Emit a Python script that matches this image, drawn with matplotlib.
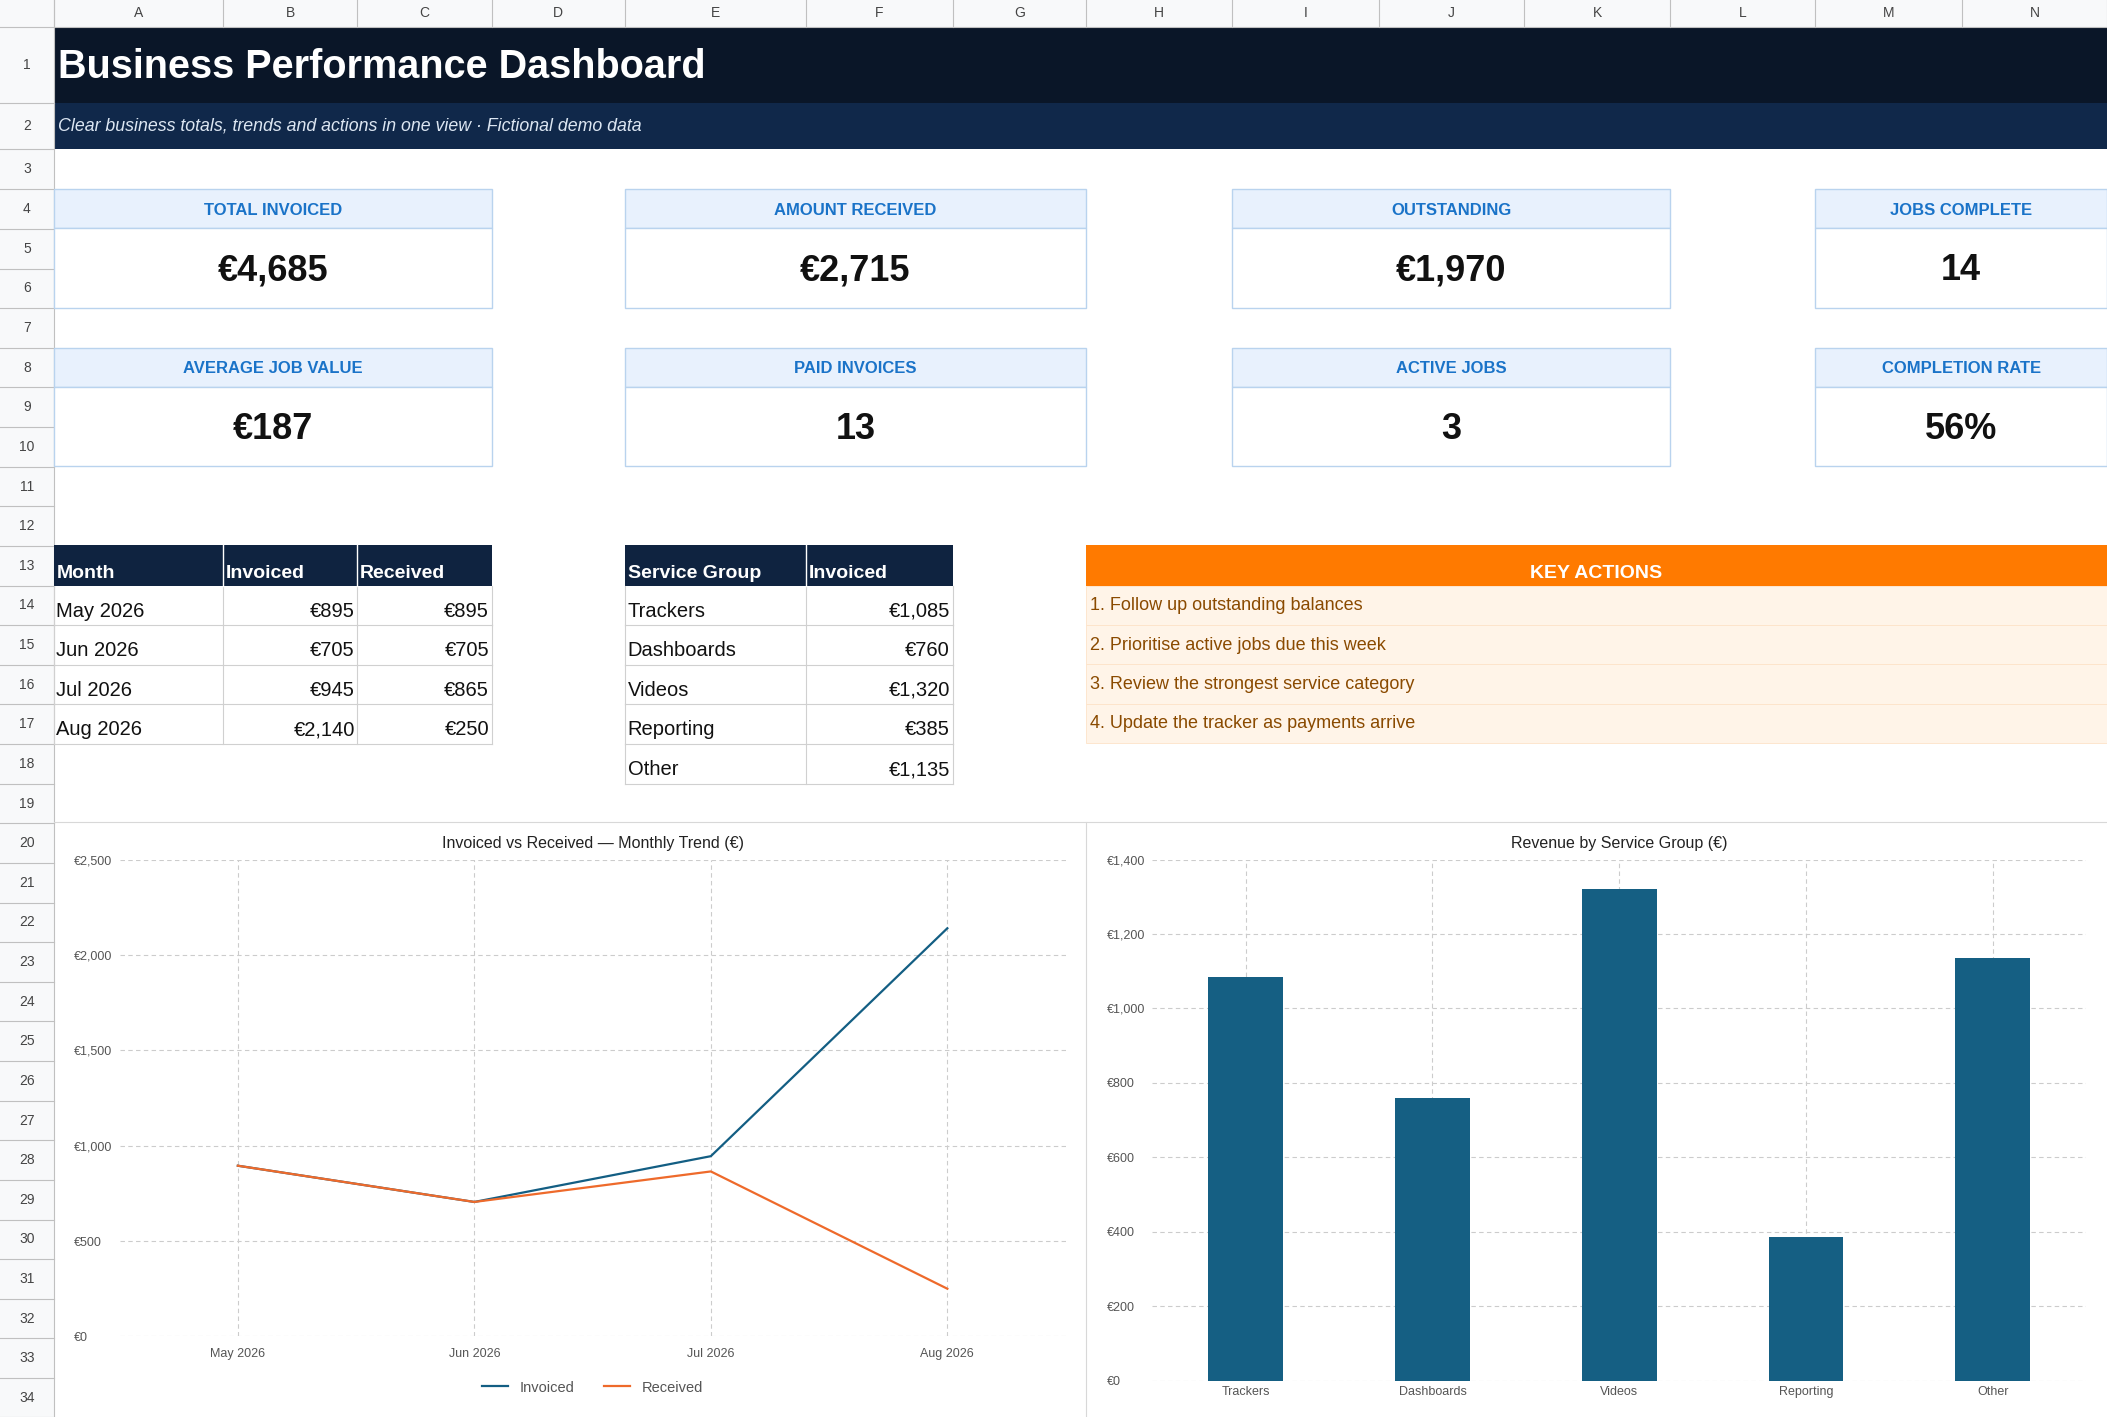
import matplotlib
matplotlib.use("Agg")
import matplotlib.pyplot as plt
from matplotlib.patches import Rectangle

plt.rcParams['font.family'] = ['Liberation Sans', 'DejaVu Sans']

title = "Business Performance Dashboard"
subtitle = "Clear business totals, trends and actions in one view · Fictional demo data"
kpi_labels = ["TOTAL INVOICED", "AMOUNT RECEIVED", "OUTSTANDING", "JOBS COMPLETE",
              "AVERAGE JOB VALUE", "PAID INVOICES", "ACTIVE JOBS", "COMPLETION RATE"]
kpi_values = ["€4,685", "€2,715", "€1,970", "14", "€187", "13", "3", "56%"]
months = ["May 2026", "Jun 2026", "Jul 2026", "Aug 2026"]
invoiced = [895, 705, 945, 2140]
received = [895, 705, 865, 250]
groups = ["Trackers", "Dashboards", "Videos", "Reporting", "Other"]
group_invoiced = [1085, 760, 1320, 385, 1135]
actions = ["1. Follow up outstanding balances", "2. Prioritise active jobs due this week",
           "3. Review the strongest service category", "4. Update the tracker as payments arrive"]

W, H = 1568, 1055
fig = plt.figure(figsize=(21.07, 14.17), dpi=100)
bg = fig.add_axes([0, 0, 1, 1])
bg.set_xlim(0, W); bg.set_ylim(H, 0); bg.axis('off')

cols = [40, 166, 266, 366, 465, 600, 709, 808, 917, 1026, 1134, 1243, 1351, 1460, 1568]
letters = "ABCDEFGHIJKLMN"
rows = [20, 77, 111, 141]
while rows[-1] < H:
    rows.append(rows[-1] + 29.5)

def rect(x0, y0, x1, y1, fc, ec='none', lw=1, z=1):
    bg.add_patch(Rectangle((x0, y0), x1 - x0, y1 - y0, fc=fc, ec=ec, lw=lw, zorder=z))

# headers
rect(0, 0, W, 20, '#f8f9fa', z=0)
rect(0, 0, 40, H, '#f8f9fa', z=0)
for i, c in enumerate(cols):
    bg.plot([c, c], [0, 20], color='#c0c0c0', lw=0.8)
    if i < len(letters):
        bg.text((c + cols[i + 1]) / 2, 10, letters[i], ha='center', va='center', fontsize=10, color='#444')
bg.plot([0, W], [20, 20], color='#c0c0c0', lw=0.8)
for i in range(len(rows) - 1):
    y0, y1 = rows[i], min(rows[i + 1], H)
    bg.plot([0, 40], [y1, y1], color='#c0c0c0', lw=0.8)
    if y0 < H - 5:
        bg.text(20, (y0 + y1) / 2, str(i + 1), ha='center', va='center', fontsize=10, color='#444')
bg.plot([40, 40], [0, H], color='#c0c0c0', lw=0.8)

# title rows
rect(40, 20, W, 77, '#0a1628', z=1)
rect(40, 77, W, 111, '#10284a', z=1)
bg.text(43, 50, title, color='white', fontsize=28.5, fontweight='bold', va='center', zorder=3)
bg.text(43, 94, subtitle, color='#dce6f2', fontsize=12.8, style='italic', va='center', zorder=3)

# KPI cards
card_x = [(40, 366), (465, 808), (917, 1243), (1351, 1568)]
card_y = [(141, 170, 229), (259, 288, 347)]
for r in range(2):
    for c in range(4):
        x0, x1 = card_x[c]
        ya, yb, yc = card_y[r]
        rect(x0, ya, x1, yb, '#e8f1fd', '#b9d3ee', 1, 2)
        rect(x0, yb, x1, yc, 'white', '#b9d3ee', 1, 2)
        k = r * 4 + c
        bg.text((x0 + x1) / 2, (ya + yb) / 2 + 1, kpi_labels[k], ha='center', va='center',
                fontsize=12, fontweight='bold', color='#1a73c8', zorder=3)
        bg.text((x0 + x1) / 2, (yb + yc) / 2 + 2, kpi_values[k], ha='center', va='center',
                fontsize=26, fontweight='bold', color='#111', zorder=3)

# month table
tcols = [40, 166, 266, 366]
rect(40, 406, 366, 436, '#0f2340', z=2)
for x in tcols[1:-1]:
    bg.plot([x, x], [406, 436], color='white', lw=1, zorder=3)
for t, x in zip(["Month", "Invoiced", "Received"], tcols):
    bg.text(x + 2, 427, t, color='white', fontsize=14, fontweight='bold', va='center', zorder=3)
for i, m in enumerate(months):
    y0 = 436 + 29.5 * i; y1 = y0 + 29.5
    for x in tcols:
        bg.plot([x, x], [y0, y1], color='#d0d0d0', lw=0.8)
    bg.plot([40, 366], [y1, y1], color='#d0d0d0', lw=0.8)
    yc = y0 + 19
    bg.text(42, yc, m, fontsize=14.5, va='center', color='#111')
    bg.text(264, yc, f"€{invoiced[i]:,}", fontsize=14.5, va='center', ha='right', color='#111')
    bg.text(364, yc, f"€{received[i]:,}", fontsize=14.5, va='center', ha='right', color='#111')

# group table
gcols = [465, 600, 709]
rect(465, 406, 709, 436, '#0f2340', z=2)
bg.plot([600, 600], [406, 436], color='white', lw=1, zorder=3)
for t, x in zip(["Service Group", "Invoiced"], gcols):
    bg.text(x + 2, 427, t, color='white', fontsize=14, fontweight='bold', va='center', zorder=3)
for i, g in enumerate(groups):
    y0 = 436 + 29.5 * i; y1 = y0 + 29.5
    for x in gcols:
        bg.plot([x, x], [y0, y1], color='#d0d0d0', lw=0.8)
    bg.plot([465, 709], [y1, y1], color='#d0d0d0', lw=0.8)
    yc = y0 + 19
    bg.text(467, yc, g, fontsize=14.5, va='center', color='#111')
    bg.text(707, yc, f"€{group_invoiced[i]:,}", fontsize=14.5, va='center', ha='right', color='#111')

# key actions
rect(808, 406, W, 436, '#ff7a00', z=2)
bg.text((808 + W) / 2, 427, "KEY ACTIONS", color='white', fontsize=14, fontweight='bold',
        ha='center', va='center', zorder=3)
for i, a in enumerate(actions):
    y0 = 436 + 29.3 * i
    rect(808, y0, W, y0 + 29.3, '#fff4e8', '#fde3c8', 0.6, 2)
    bg.text(811, y0 + 15, a, fontsize=13, color='#8a4a00', va='center', zorder=3)

# chart frames
bg.plot([40, W], [612, 612], color='#d8d8d8', lw=0.8)
bg.plot([808, 808], [612, H], color='#d8d8d8', lw=0.8)

def fax(x0, y0, x1, y1):
    return fig.add_axes([x0 / W, 1 - y1 / H, (x1 - x0) / W, (y1 - y0) / H])

grid_kw = dict(color='#cccccc', ls=(0, (4, 3)), lw=0.8)

# line chart
ax1 = fax(89, 640, 793, 995)
xs = list(range(len(months)))
ax1.plot(xs, invoiced, color='#135e83', lw=1.6, label='Invoiced', zorder=3)
ax1.plot(xs, received, color='#ee6a2b', lw=1.6, label='Received', zorder=3)
ax1.set_xlim(-0.5, 3.5); ax1.set_ylim(0, 2500)
ax1.set_xticks(xs); ax1.set_xticklabels(months)
ax1.set_yticks(range(0, 2501, 500))
ax1.set_yticklabels([f"€{v:,}" for v in range(0, 2501, 500)])
ax1.grid(True, **grid_kw)
for s in ax1.spines.values(): s.set_visible(False)
ax1.tick_params(length=0, labelsize=9, labelcolor='#555', pad=8)
for lbl in ax1.get_yticklabels(): lbl.set_horizontalalignment('left')
ax1.tick_params(axis='y', pad=33)
ax1.set_title("Invoiced vs Received — Monthly Trend (€)", fontsize=11.5, color='#222', pad=8)
ax1.legend(loc='upper center', bbox_to_anchor=(0.5, -0.065), ncol=2, frameon=False,
           fontsize=10.5, labelcolor='#555', handlelength=1.8)

# bar chart
ax2 = fax(857.5, 640, 1552.5, 1028)
bx = list(range(len(groups)))
ax2.bar(bx, group_invoiced, width=0.4, color='#155f83', zorder=3)
ax2.set_xlim(-0.5, 4.5); ax2.set_ylim(0, 1400)
ax2.set_xticks(bx); ax2.set_xticklabels(groups)
ax2.set_yticks(range(0, 1401, 200))
ax2.set_yticklabels([f"€{v:,}" for v in range(0, 1401, 200)])
ax2.grid(True, **grid_kw)
for s in ax2.spines.values(): s.set_visible(False)
ax2.tick_params(length=0, labelsize=9, labelcolor='#555', pad=4)
for lbl in ax2.get_yticklabels(): lbl.set_horizontalalignment('left')
ax2.tick_params(axis='y', pad=33)
ax2.set_title("Revenue by Service Group (€)", fontsize=11.5, color='#222', pad=8)

fig.savefig("out.png", dpi=100)
